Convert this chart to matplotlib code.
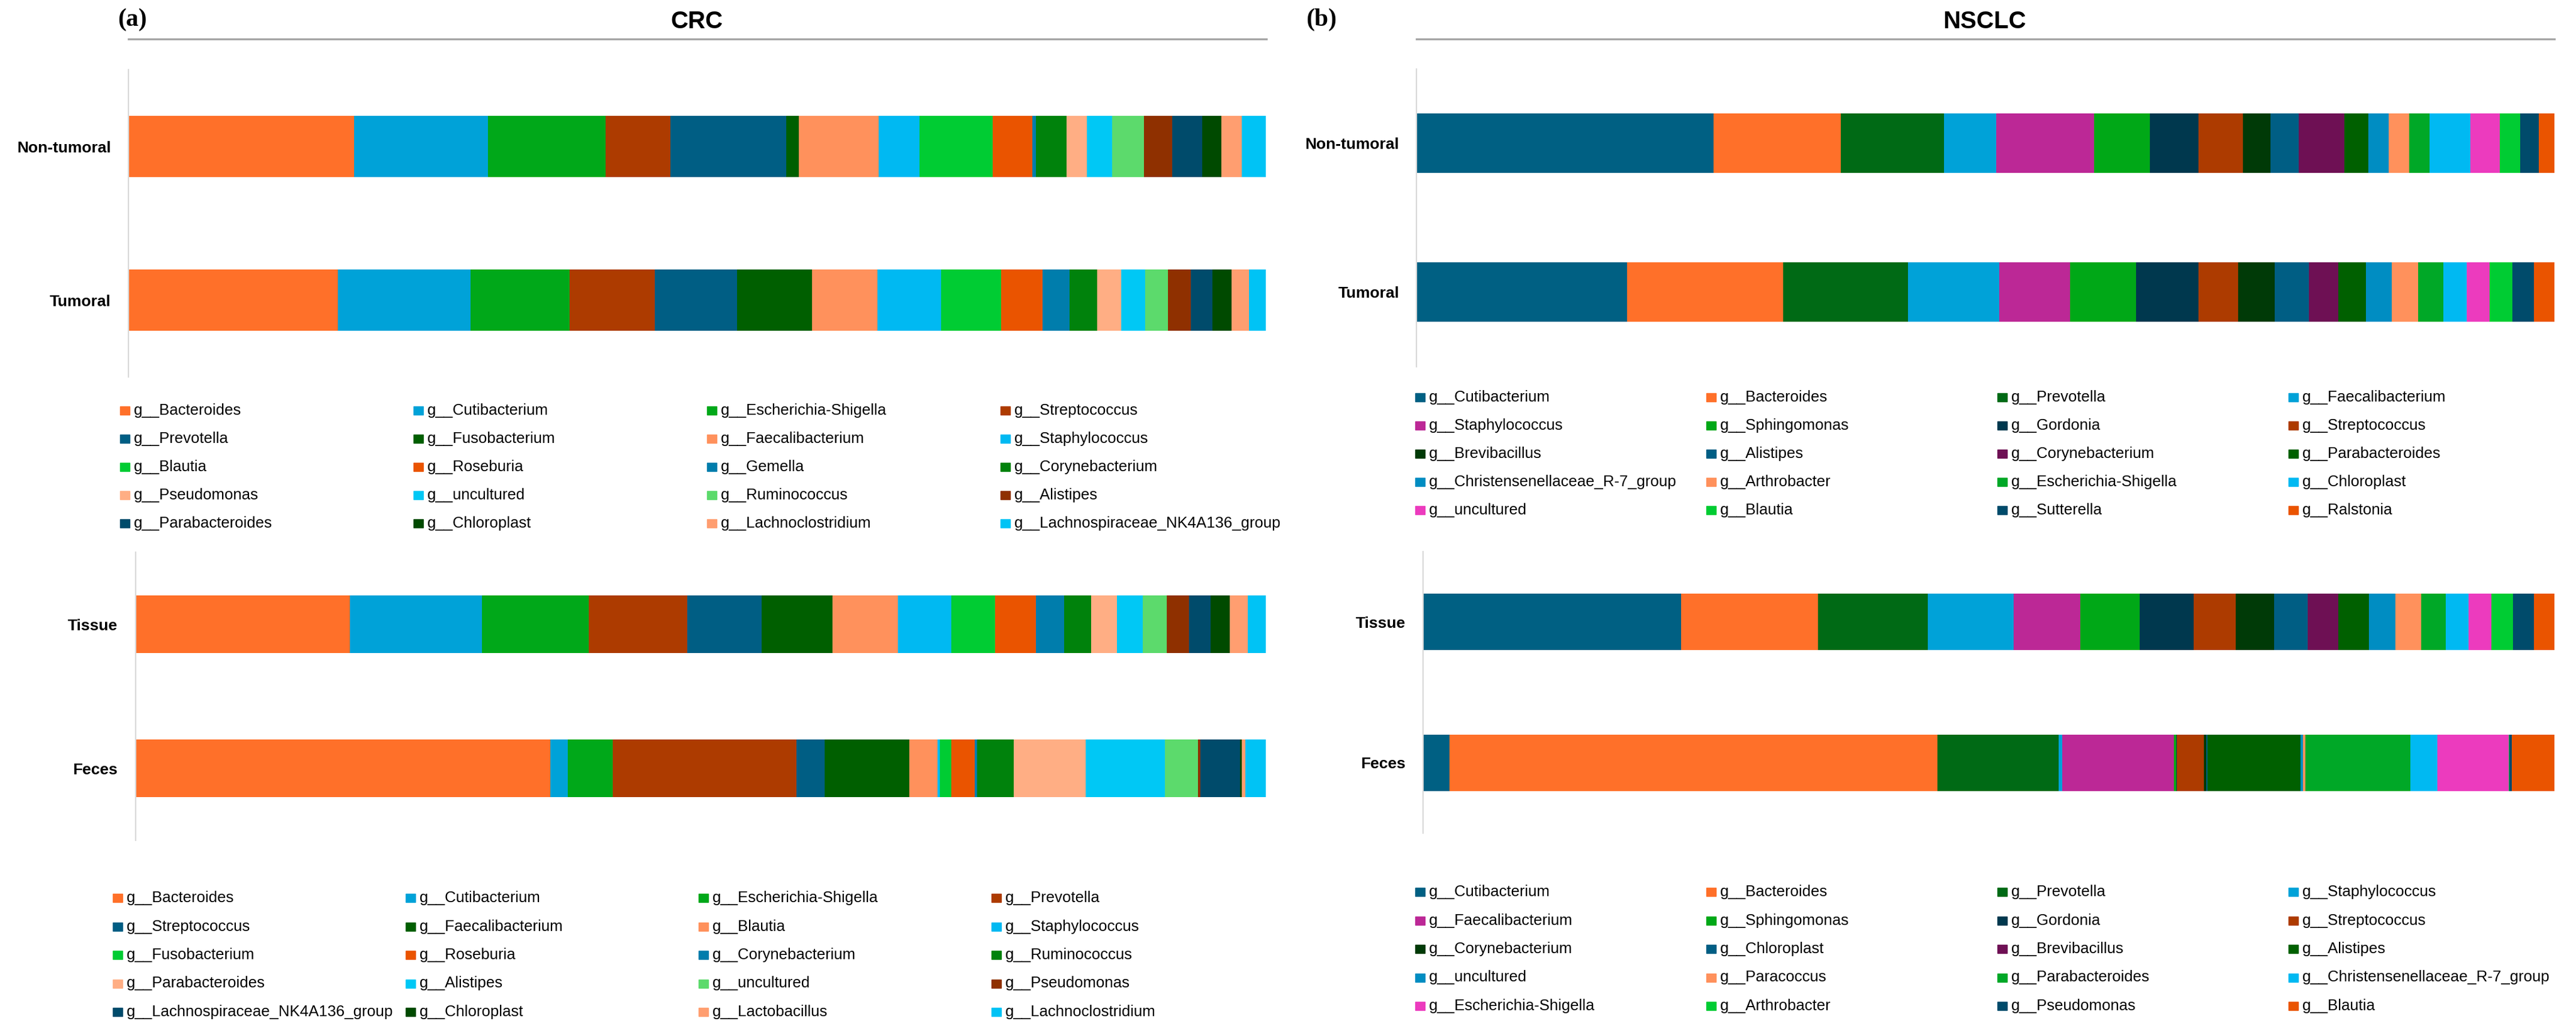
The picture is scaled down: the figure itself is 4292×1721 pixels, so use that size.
import numpy as np
import matplotlib
matplotlib.use("Agg")
import matplotlib.pyplot as plt
from matplotlib.patches import Rectangle
from matplotlib.lines import Line2D

plt.rcParams['font.family'] = ['Liberation Sans', 'DejaVu Sans']

# ---------------- data (relative abundance, %) ----------------
crc_groups_a = ["Non-tumoral", "Tumoral"]
crc_genera_a = ["Bacteroides", "Cutibacterium", "Escherichia-Shigella", "Streptococcus",
                "Prevotella", "Fusobacterium", "Faecalibacterium", "Staphylococcus",
                "Blautia", "Roseburia", "Gemella", "Corynebacterium",
                "Pseudomonas", "uncultured", "Ruminococcus", "Alistipes",
                "Parabacteroides", "Chloroplast", "Lachnoclostridium", "Lachnospiraceae_NK4A136_group"]
crc_nontumoral = [19.8, 11.8, 10.3, 5.7, 10.2, 1.1, 7.0, 3.6, 6.4, 3.5,
                  0.3, 2.7, 1.8, 2.2, 2.8, 2.5, 2.6, 1.7, 1.8, 2.1]
crc_tumoral = [18.4, 11.6, 8.7, 7.5, 7.2, 6.6, 5.7, 5.6, 5.3, 3.6,
               2.4, 2.4, 2.1, 2.1, 2.0, 2.0, 1.9, 1.7, 1.5, 1.5]

crc_groups_b = ["Tissue", "Feces"]
crc_genera_b = ["Bacteroides", "Cutibacterium", "Escherichia-Shigella", "Prevotella",
                "Streptococcus", "Faecalibacterium", "Blautia", "Staphylococcus",
                "Fusobacterium", "Roseburia", "Corynebacterium", "Ruminococcus",
                "Parabacteroides", "Alistipes", "uncultured", "Pseudomonas",
                "Lachnospiraceae_NK4A136_group", "Chloroplast", "Lactobacillus", "Lachnoclostridium"]
crc_tissue = [19.0, 11.7, 9.5, 8.7, 6.6, 6.3, 5.8, 4.7, 3.9, 3.6,
              2.5, 2.4, 2.3, 2.3, 2.1, 2.0, 1.9, 1.7, 1.6, 1.6]
crc_feces = [36.7, 1.5, 4.0, 16.2, 2.5, 7.5, 2.5, 0.2, 1.0, 2.1,
             0.2, 3.2, 6.4, 7.0, 2.9, 0.2, 3.5, 0.2, 0.3, 1.8]

nsclc_groups_a = ["Non-tumoral", "Tumoral"]
nsclc_genera_a = ["Cutibacterium", "Bacteroides", "Prevotella", "Faecalibacterium",
                  "Staphylococcus", "Sphingomonas", "Gordonia", "Streptococcus",
                  "Brevibacillus", "Alistipes", "Corynebacterium", "Parabacteroides",
                  "Christensenellaceae_R-7_group", "Arthrobacter", "Escherichia-Shigella", "Chloroplast",
                  "uncultured", "Blautia", "Sutterella", "Ralstonia"]
nsclc_nontumoral = [26.1, 11.2, 9.1, 4.6, 8.6, 4.9, 4.3, 3.9, 2.4, 2.5,
                    4.0, 2.1, 1.8, 1.8, 1.8, 3.6, 2.6, 1.8, 1.6, 1.4]
nsclc_tumoral = [18.5, 13.7, 11.0, 8.0, 6.2, 5.8, 5.5, 3.5, 3.2, 3.0,
                 2.6, 2.4, 2.3, 2.3, 2.2, 2.1, 2.0, 2.0, 1.9, 1.8]

nsclc_groups_b = ["Tissue", "Feces"]
nsclc_genera_b = ["Cutibacterium", "Bacteroides", "Prevotella", "Staphylococcus",
                  "Faecalibacterium", "Sphingomonas", "Gordonia", "Streptococcus",
                  "Corynebacterium", "Chloroplast", "Brevibacillus", "Alistipes",
                  "uncultured", "Paracoccus", "Parabacteroides", "Christensenellaceae_R-7_group",
                  "Escherichia-Shigella", "Arthrobacter", "Pseudomonas", "Blautia"]
nsclc_tissue = [22.8, 12.1, 9.7, 7.6, 5.9, 5.2, 4.8, 3.7, 3.4, 3.0,
                2.7, 2.7, 2.3, 2.3, 2.2, 2.0, 2.0, 1.9, 1.9, 1.8]
nsclc_feces = [2.3, 43.1, 10.7, 0.3, 9.9, 0.2, 0.03, 2.4, 0.2, 0.1,
               0.03, 8.2, 0.2, 0.2, 9.3, 2.4, 6.3, 0.03, 0.2, 3.8]

crc_colors = ['#FF7029', '#00A2D8', '#00A819', '#AD3B00', '#005E84', '#005F00', '#FF915C',
              '#00B9F2', '#00CC33', '#EA5400', '#007DAC', '#00820C', '#FFAE84', '#00C8F5',
              '#5CDA6C', '#8F3000', '#004B6B', '#004A00', '#FF9E70', '#00C3F5']
nsclc_colors = ['#006083', '#FF7029', '#006A15', '#00A2D8', '#BC2896', '#00A817', '#00384E',
                '#AD3B00', '#003A07', '#005E84', '#6E1054', '#006000', '#008DC2', '#FF915C',
                '#00A827', '#00B9F2', '#EC3BBE', '#00CC33', '#004B6B', '#EA5400']

# ---------------- figure ----------------
W, H = 4292, 1721
fig = plt.figure(figsize=(W / 100, H / 100), dpi=100)


def px_axes(left, top, right, bottom):
    return fig.add_axes([left / W, 1 - bottom / H, (right - left) / W, (bottom - top) / H])


def stacked(ax, groups, genera, rows, colors):
    data = np.array(rows, dtype=float)
    data = data / data.sum(axis=1, keepdims=True) * 100
    y = np.arange(len(groups))
    left = np.zeros(len(groups))
    for j, name in enumerate(genera):
        ax.barh(y, data[:, j], left=left, height=0.4, color=colors[j], label="g__" + name)
        left += data[:, j]
    ax.set_xlim(0, 100)
    ax.set_ylim(len(groups) - 0.5, -0.5)
    ax.set_yticks(y, groups, fontsize=19, fontweight='bold')
    ax.set_xticks([])
    ax.tick_params(axis='y', length=0, pad=21)
    for s in ['top', 'right', 'bottom']:
        ax.spines[s].set_visible(False)
    ax.spines['left'].set_color('#D9D9D9')
    ax.spines['left'].set_linewidth(1.6)


def legend_grid(genera, colors, x0, y0, dx, dy):
    # Excel-style legend: uniform columns, read row by row
    for i, name in enumerate(genera):
        r, c = divmod(i, 4)
        x = x0 + c * dx
        y = y0 + r * dy
        fig.patches.append(Rectangle((x / W, 1 - (y + 7) / H), 16 / W, 14 / H,
                                     transform=fig.transFigure, color=colors[i]))
        fig.text((x + 23) / W, 1 - (y + 7) / H, "g__" + name, fontsize=18.5,
                 va='baseline', ha='left')


ax1 = px_axes(214, 116, 2109, 628)
stacked(ax1, crc_groups_a, crc_genera_a, [crc_nontumoral, crc_tumoral], crc_colors)
legend_grid(crc_genera_a, crc_colors, 200, 684, 489, 47)

ax2 = px_axes(225.5, 920, 2109, 1400)
stacked(ax2, crc_groups_b, crc_genera_b, [crc_tissue, crc_feces], crc_colors)
legend_grid(crc_genera_b, crc_colors, 188, 1496, 488, 47.5)

ax3 = px_axes(2360.4, 114.5, 4256.3, 610.5)
stacked(ax3, nsclc_groups_a, nsclc_genera_a, [nsclc_nontumoral, nsclc_tumoral], nsclc_colors)
legend_grid(nsclc_genera_a, nsclc_colors, 2358, 662, 485, 47)

ax4 = px_axes(2371.3, 919, 4256.3, 1388)
stacked(ax4, nsclc_groups_b, nsclc_genera_b, [nsclc_tissue, nsclc_feces], nsclc_colors)
legend_grid(nsclc_genera_b, nsclc_colors, 2358, 1486, 485, 47.5)

# panel headers
for x0, x1, tag, tagx, title, tx, tsize in [(214, 2110, '(a)', 196, 'CRC', 1161, 29),
                                             (2360, 4256, '(b)', 2176, 'NSCLC', 3307, 29)]:
    fig.add_artist(Line2D([x0 / W, x1 / W], [1 - 65 / H, 1 - 65 / H],
                          color='#A6A6A6', linewidth=2.4, transform=fig.transFigure))
    fig.text(tagx / W, 1 - 33 / H, tag, family=['Liberation Serif', 'DejaVu Serif'],
             fontsize=30, fontweight='bold', va='center', ha='left')
    fig.text(tx / W, 1 - 36 / H, title, fontsize=tsize, fontweight='bold',
             va='center', ha='center')

fig.savefig("out.png", dpi=100)
